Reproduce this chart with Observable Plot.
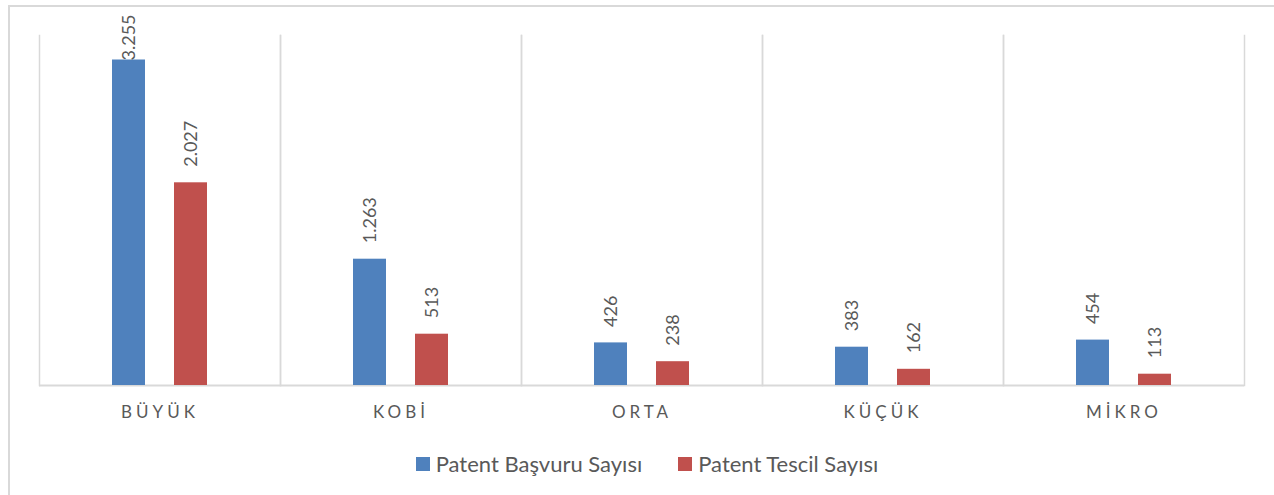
<!DOCTYPE html>
<html>
<head>
<meta charset="utf-8">
<script src="https://cdn.jsdelivr.net/npm/d3@7"></script>
<script src="https://cdn.jsdelivr.net/npm/@observablehq/plot@0.6"></script>
<style>
  html, body { margin: 0; padding: 0; background: #fff; }
  #wrap { position: relative; width: 1274px; height: 495px; overflow: hidden; font-family: Lato, "Open Sans", sans-serif; }
  #border { position: absolute; left: 8px; top: 5px; width: 1270px; height: 520px; border: 2px solid #d9d9d9; box-sizing: border-box; }
  #chart { position: absolute; left: 0; top: 0; }
  #legend { position: absolute; left: 0; width: 1294px; top: 450px; display: flex; justify-content: center; gap: 36px; font-size: 22px; color: #595959; }
  #legend .item { display: flex; align-items: center; gap: 6px; }
  #legend .sw { width: 14px; height: 14px; display: inline-block; }
  g[aria-label="fx-axis tick label"] text { letter-spacing: 4px; }
</style>
</head>
<body>
<div id="wrap">
  <div id="border"></div>
  <div id="chart"></div>
  <div id="legend"></div>
</div>
<script>
const categories = ["BÜYÜK", "KOBİ", "ORTA", "KÜÇÜK", "MİKRO"];
const seriesNames = ["Patent Başvuru Sayısı", "Patent Tescil Sayısı"];
const basvuru = [3255, 1263, 426, 383, 454];
const tescil = [2027, 513, 238, 162, 113];
const colors = ["#4f81bd", "#c0504d"];

const data = categories.flatMap((c, i) => [
  {cat: c, series: seriesNames[0], value: basvuru[i]},
  {cat: c, series: seriesNames[1], value: tescil[i]}
]);

const fmt = d3.formatLocale({decimal: ",", thousands: ".", grouping: [3], currency: ["", ""]}).format(",d");
// Excel keeps data labels inside the chart area: cap the label anchor
const labelCap = 3090;

const chart = Plot.plot({
  width: 1274,
  height: 425,
  marginLeft: 37,
  marginRight: 29,
  marginTop: 35,
  marginBottom: 40,
  style: {fontFamily: "Lato, 'Open Sans', sans-serif", color: "#595959", background: "transparent"},
  fx: {domain: categories, padding: 0, label: null, axis: null},
  x: {domain: seriesNames, axis: null, paddingInner: 0.46, paddingOuter: 1.15},
  y: {domain: [0, 3500], axis: null},
  color: {domain: seriesNames, range: colors},
  marks: [
    Plot.frame({anchor: "left", stroke: "#d9d9d9", strokeWidth: 1.5}),
    Plot.frame({anchor: "right", stroke: "#d9d9d9", strokeWidth: 1.5}),
    Plot.ruleY([0], {stroke: "#d9d9d9", strokeWidth: 2}),
    Plot.barY(data, {fx: "cat", x: "series", y: "value", fill: "series"}),
    Plot.text(data, {
      fx: "cat", x: "series",
      y: d => Math.min(d.value, labelCap),
      text: d => fmt(d.value),
      rotate: -90, textAnchor: "start", dy: -16,
      fontSize: 18, fill: "#595959"
    }),
    Plot.axisFx({anchor: "bottom", tickSize: 0, tickPadding: 20, fontSize: 17, label: null, fill: "#595959"})
  ]
});
document.getElementById("chart").appendChild(chart);

const legend = document.getElementById("legend");
seriesNames.forEach((s, i) => {
  const item = document.createElement("div");
  item.className = "item";
  const sw = document.createElement("span");
  sw.className = "sw";
  sw.style.background = colors[i];
  const t = document.createElement("span");
  t.textContent = s;
  item.appendChild(sw);
  item.appendChild(t);
  legend.appendChild(item);
});
</script>
</body>
</html>
